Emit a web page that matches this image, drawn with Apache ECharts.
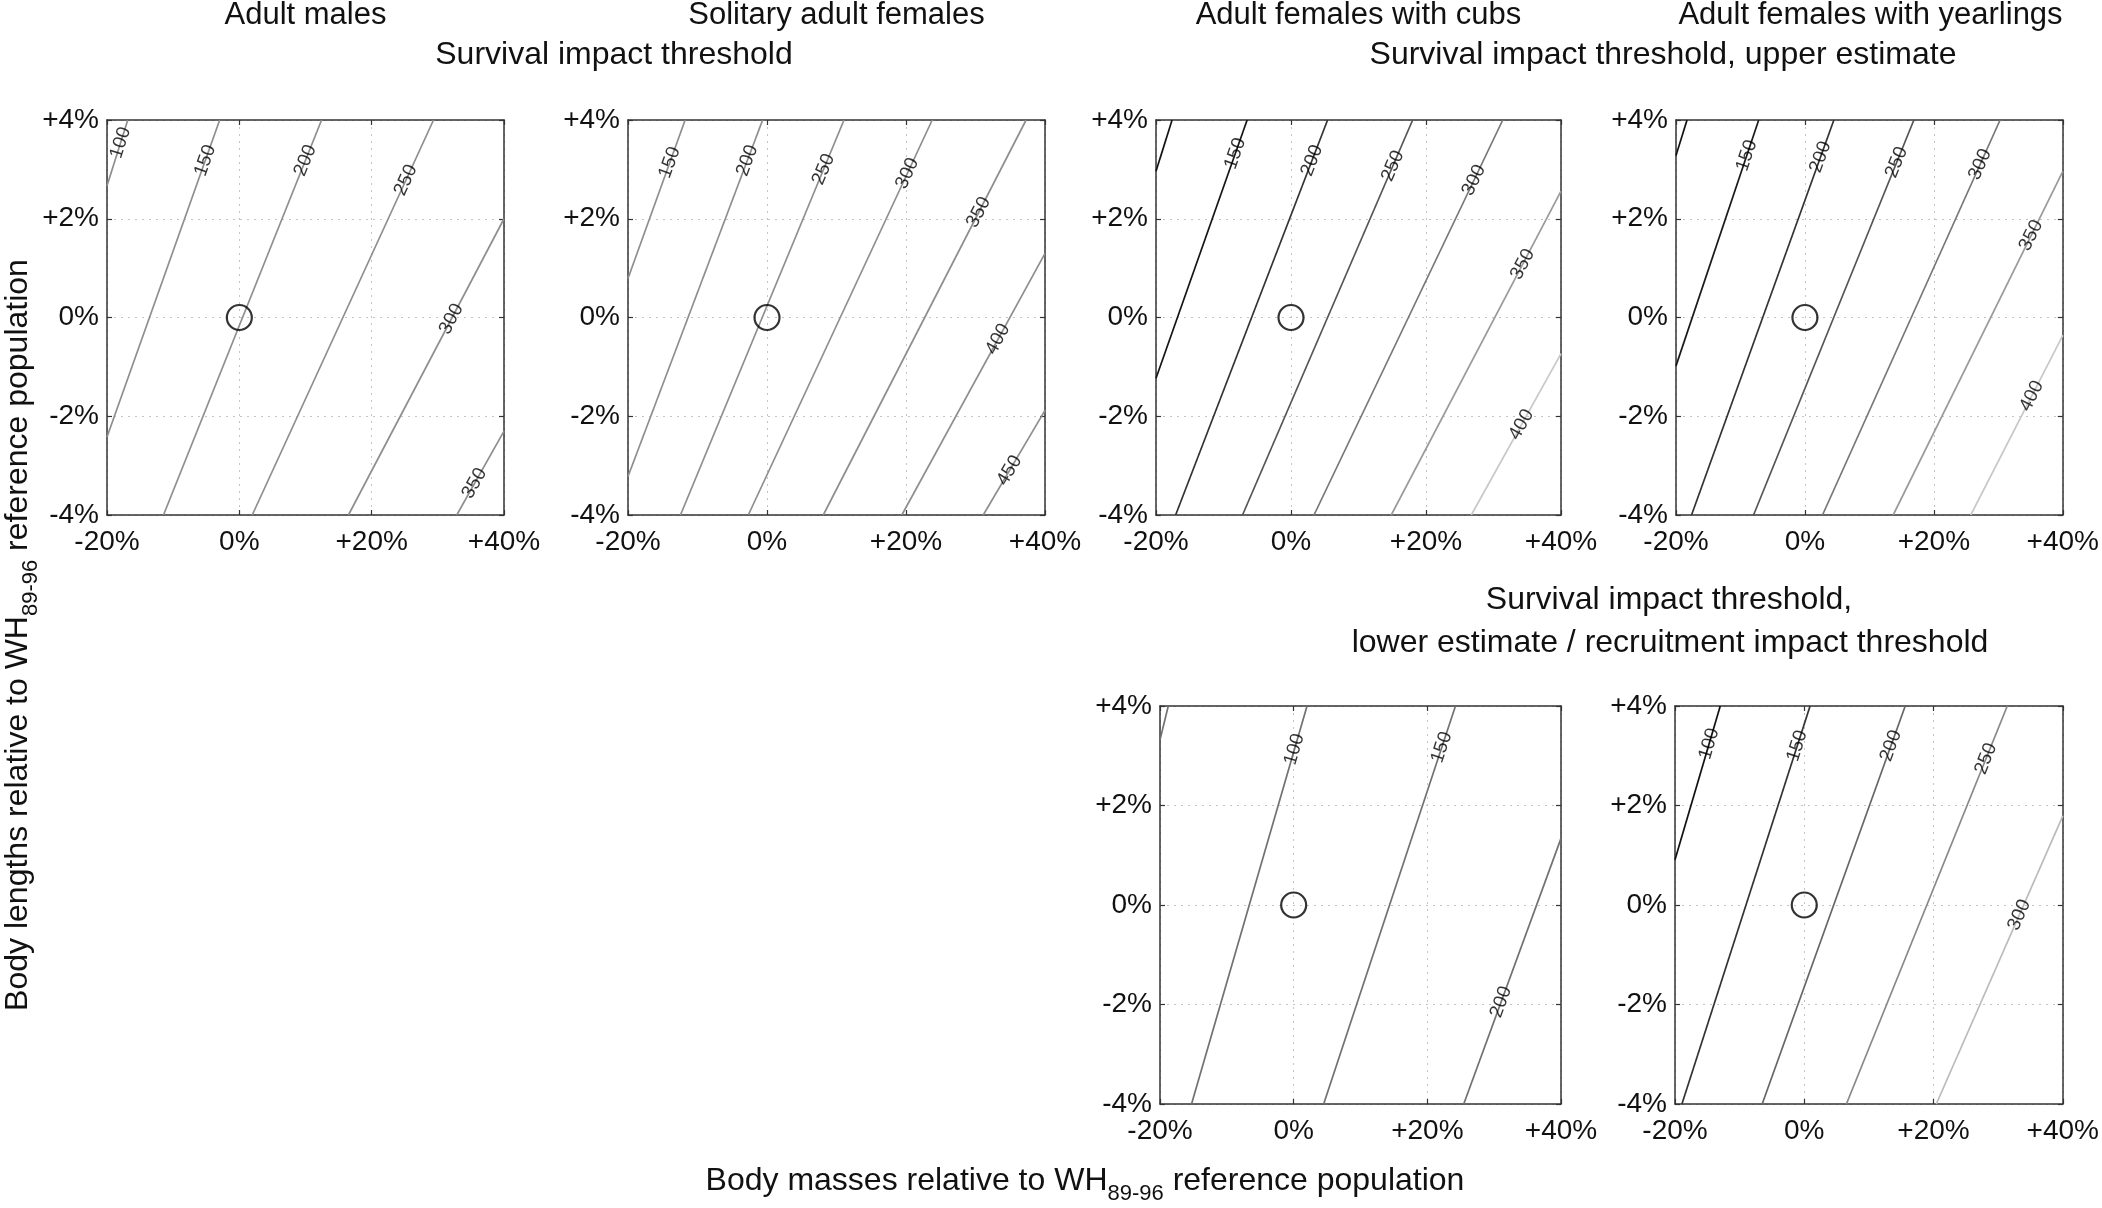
<!DOCTYPE html>
<html><head><meta charset="utf-8">
<script src="https://cdn.jsdelivr.net/npm/echarts@6/dist/echarts.min.js"></script>
<style>html,body{margin:0;padding:0;background:#fff}#c{width:2102px;height:1208px}</style>
</head><body><div id="c"></div>
<script>
// ---- axis ticks ----
const xTicks = [-20, 0, 20, 40];
const xTickLabels = ['-20%', '0%', '+20%', '+40%'];
const yTicks = [-4, -2, 0, 2, 4];
const yTickLabels = ['-4%', '-2%', '0%', '+2%', '+4%'];

// ---- panel titles ----
const panelTitles = ['Adult males', 'Solitary adult females', 'Adult females with cubs', 'Adult females with yearlings', '', ''];

// reference population point
const refPoint = [0, 0];

// ---- contour data (x: body mass %, y: body length %) ----
const levels1 = [100, 150, 200, 250, 300, 350];
const lines1 = [
  [[-16.86, 4], [-20, 2.67]],
  [[-2.97, 4], [-20, -2.42]],
  [[12.43, 4], [-11.46, -4]],
  [[29.35, 4], [1.95, -4]],
  [[40, 2.0], [16.49, -4]],
  [[40, -2.30], [32.86, -4]]
];
const labelY1 = [3.54, 3.18, 3.18, 2.78, -0.03, -3.36];

const levels2 = [150, 200, 250, 300, 350, 400, 450];
const lines2 = [
  [[-11.78, 4], [-20, 0.79]],
  [[-0.63, 4], [-20, -3.22]],
  [[11.08, 4], [-12.45, -4]],
  [[23.77, 4], [-2.69, -4]],
  [[37.28, 4], [8.10, -4]],
  [[40, 1.30], [19.40, -4]],
  [[40, -1.88], [31.11, -4]]
];
const labelY2 = [3.14, 3.18, 3.0, 2.92, 2.13, -0.44, -3.10];

const levels3 = [100, 150, 200, 250, 300, 350, 400];
const lines3 = [
  [[-17.62, 4], [-20, 2.96]],
  [[-6.50, 4], [-20, -1.23]],
  [[5.42, 4], [-17.09, -4]],
  [[18.02, 4], [-7.18, -4]],
  [[31.37, 4], [3.41, -4]],
  [[40, 2.56], [14.85, -4]],
  [[40, -0.73], [26.71, -4]]
];
const labelY3 = [null, 3.32, 3.18, 3.07, 2.78, 1.08, -2.17];

const levels4 = [100, 150, 200, 250, 300, 350, 400];
const lines4 = [
  [[-18.29, 4], [-20, 3.28]],
  [[-7.17, 4], [-20, -0.98]],
  [[4.49, 4], [-17.59, -4]],
  [[16.90, 4], [-7.97, -4]],
  [[30.27, 4], [2.73, -4]],
  [[40, 2.96], [13.69, -4]],
  [[40, -0.36], [25.72, -4]]
];
const labelY4 = [null, 3.28, 3.25, 3.14, 3.10, 1.66, -1.59];

const levels5 = [50, 100, 150, 200];
const lines5 = [
  [[-18.76, 4], [-20, 3.32]],
  [[2.00, 4], [-15.28, -4]],
  [[24.21, 4], [4.49, -4]],
  [[40, 1.34], [25.45, -4]]
];
const labelY5 = [null, 3.13, 3.17, -1.95];

const levels6 = [100, 150, 200, 250, 300];
const lines6 = [
  [[-13.00, 4], [-20, 0.91]],
  [[0.90, 4], [-18.93, -4]],
  [[15.62, 4], [-6.51, -4]],
  [[31.41, 4], [6.52, -4]],
  [[40, 1.79], [20.43, -4]]
];
const labelY6 = [3.24, 3.20, 3.20, 2.94, -0.20];

// ---- styles ----
const colors1 = ['#8e8e8e', '#8e8e8e', '#8e8e8e', '#8e8e8e', '#8e8e8e', '#8e8e8e'];
const colors2 = ['#8e8e8e', '#8e8e8e', '#8e8e8e', '#8e8e8e', '#8e8e8e', '#8e8e8e', '#8e8e8e'];
const colors3 = ['#111111', '#151515', '#333333', '#555555', '#777777', '#9a9a9a', '#c8c8c8'];
const colors4 = ['#111111', '#1a1a1a', '#333333', '#555555', '#777777', '#9a9a9a', '#c8c8c8'];
const colors5 = ['#717171', '#717171', '#717171', '#717171'];
const colors6 = ['#111111', '#333333', '#666666', '#888888', '#bbbbbb'];

const boxes = [
  [107, 120, 397, 395],
  [628, 120, 417, 395],
  [1156, 120, 405, 395],
  [1676, 120, 389, 395],
  [1160, 706, 401, 398],
  [1675, 706, 390, 398]
];

const panels = [
  { levels: levels1, lines: lines1, labelY: labelY1, colors: colors1 },
  { levels: levels2, lines: lines2, labelY: labelY2, colors: colors2 },
  { levels: levels3, lines: lines3, labelY: labelY3, colors: colors3 },
  { levels: levels4, lines: lines4, labelY: labelY4, colors: colors4 },
  { levels: levels5, lines: lines5, labelY: labelY5, colors: colors5 },
  { levels: levels6, lines: lines6, labelY: labelY6, colors: colors6 }
];

const FONT = "'Liberation Sans', Arial, Helvetica, sans-serif";
const TXT = '#111';

function xFmt(v) { const i = xTicks.indexOf(v); return i >= 0 ? xTickLabels[i] : ''; }
function yFmt(v) { const i = yTicks.indexOf(v); return i >= 0 ? yTickLabels[i] : ''; }

function interpX(line, y) {
  const [a, b] = line;
  const t = (y - a[1]) / (b[1] - a[1]);
  return a[0] + t * (b[0] - a[0]);
}

function buildOption(angles) {
  const grid = [], xAxis = [], yAxis = [], series = [];
  const frame = { show: true, onZero: false, lineStyle: { color: '#333', width: 1.5 } };
  boxes.forEach((b, i) => {
    grid.push({ left: b[0], top: b[1], width: b[2], height: b[3], containLabel: false });
    const common = { type: 'value', gridIndex: i, axisLine: frame,
      axisTick: { show: true, inside: true, length: 5, lineStyle: { color: '#333', width: 1.2 } } };
    xAxis.push(Object.assign({}, common, { position: 'bottom', min: -20, max: 40, interval: 20,
      axisLabel: { show: true, margin: 13, fontSize: 28, color: TXT, fontFamily: FONT, formatter: xFmt, showMinLabel: true, showMaxLabel: true },
      splitLine: { show: true, lineStyle: { color: '#c4c4c4', width: 1, type: [2, 5] } } }));
    xAxis.push(Object.assign({}, common, { position: 'top', min: -20, max: 40, interval: 20,
      axisLabel: { show: false }, splitLine: { show: false } }));
    yAxis.push(Object.assign({}, common, { position: 'left', min: -4, max: 4, interval: 2,
      axisLabel: { show: true, margin: 8, fontSize: 28, color: TXT, fontFamily: FONT, formatter: yFmt, showMinLabel: true, showMaxLabel: true },
      splitLine: { show: true, lineStyle: { color: '#c4c4c4', width: 1, type: [2, 5] } } }));
    yAxis.push(Object.assign({}, common, { position: 'right', min: -4, max: 4, interval: 2,
      axisLabel: { show: false }, splitLine: { show: false } }));

    const p = panels[i];
    p.lines.forEach((ln, j) => {
      series.push({ type: 'line', xAxisIndex: 2 * i, yAxisIndex: 2 * i, data: ln,
        symbol: 'none', showSymbol: false, silent: true, animation: false, z: 2,
        lineStyle: { color: p.colors[j], width: 1.7 } });
    });
    const labData = [];
    p.lines.forEach((ln, j) => {
      const ly = p.labelY[j];
      if (ly === null || ly === undefined) return;
      const ang = angles ? angles[i][j] : 0;
      labData.push({ value: [interpX(ln, ly), ly], name: String(p.levels[j]),
        label: { rotate: ang } });
    });
    series.push({ type: 'scatter', xAxisIndex: 2 * i, yAxisIndex: 2 * i, data: labData,
      symbolSize: 0, silent: true, animation: false, z: 3,
      itemStyle: { color: 'rgba(0,0,0,0)' },
      label: { show: true, position: 'inside', formatter: '{b}', fontSize: 19, color: '#000',
        fontFamily: FONT } });
    series.push({ type: 'scatter', xAxisIndex: 2 * i, yAxisIndex: 2 * i, data: [refPoint],
      symbol: 'circle', symbolSize: 25, silent: true, animation: false, z: 4,
      itemStyle: { color: 'rgba(0,0,0,0)', borderColor: '#000', borderWidth: 2.2 } });
  });

  const graphic = [];
  const txt = (x, y, text, size, extra) => Object.assign({ type: 'text', x: x, y: y, silent: true,
    style: { text: text, fontSize: size, fontFamily: FONT, fill: TXT,
      align: 'center', verticalAlign: 'middle', textAlign: 'center', textVerticalAlign: 'middle' } }, extra || {});
  boxes.forEach((b, i) => {
    if (panelTitles[i]) graphic.push(txt(b[0] + b[2] / 2, 15, panelTitles[i], 31));
  });
  graphic.push(txt(614, 55, 'Survival impact threshold', 32));
  graphic.push(txt(1663, 55, 'Survival impact threshold, upper estimate', 32));
  graphic.push(txt(1669, 600, 'Survival impact threshold,', 32));
  graphic.push(txt(1670, 643, 'lower estimate / recruitment impact threshold', 32));
  const rich = { n: { fontSize: 32, fontFamily: FONT, fill: TXT, color: TXT },
                 s: { fontSize: 22, fontFamily: FONT, fill: TXT, color: TXT, padding: [26, 0, 0, 0] } };
  const xt = txt(1085, 1181, '{n|Body masses relative to WH}{s|89-96}{n| reference population}', 32);
  xt.style.rich = rich;
  graphic.push(xt);
  const yt = txt(18, 635, '{n|Body lengths relative to WH}{s|89-96}{n| reference population}', 32, { rotation: Math.PI / 2 });
  yt.style.rich = rich;
  graphic.push(yt);

  return { animation: false, backgroundColor: '#fff', textStyle: { fontFamily: FONT },
    grid, xAxis, yAxis, series, graphic };
}

const chart = echarts.init(document.getElementById('c'), null, { renderer: 'canvas' });
chart.setOption(buildOption(null));
// label rotation along each contour, derived from the axes' pixel scales
const angles = panels.map((p, i) => p.lines.map(ln => {
  const a = chart.convertToPixel({ xAxisIndex: 2 * i, yAxisIndex: 2 * i }, ln[0]);
  const b = chart.convertToPixel({ xAxisIndex: 2 * i, yAxisIndex: 2 * i }, ln[1]);
  let deg = Math.atan2(-(b[1] - a[1]), b[0] - a[0]) * 180 / Math.PI;
  if (deg > 90) deg -= 180;
  if (deg < -90) deg += 180;
  return deg;
}));
chart.setOption(buildOption(angles), true);
</script></body></html>
